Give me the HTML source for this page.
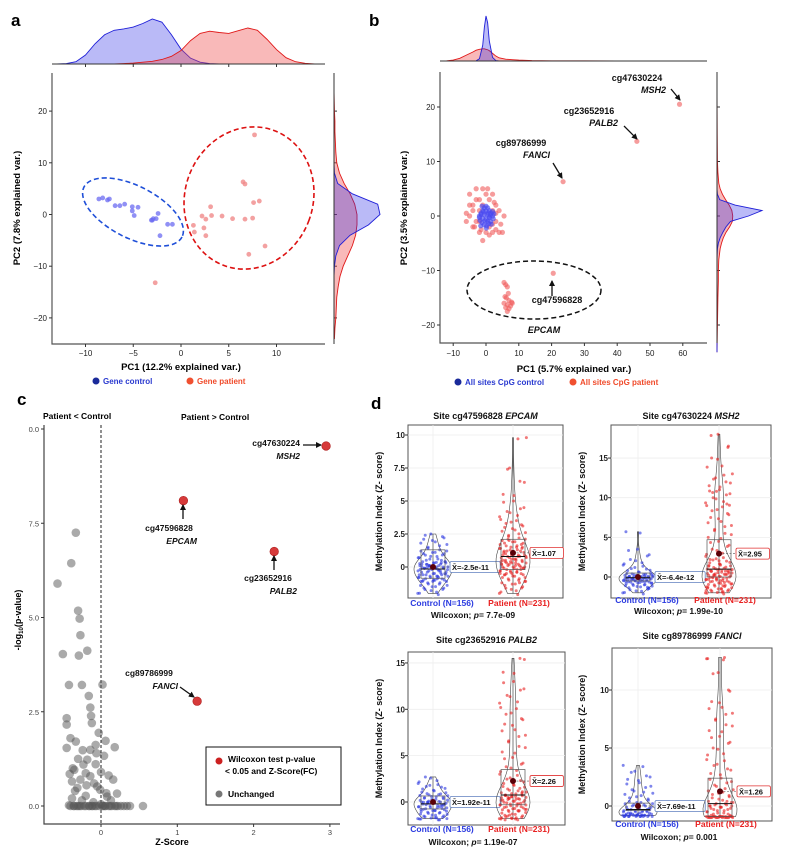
<!DOCTYPE html>
<html><head><meta charset="utf-8">
<style>
html,body{margin:0;padding:0;background:#fff;}
svg{display:block;font-family:"Liberation Sans",Arial,sans-serif;}
.b{font-weight:bold;}
.t{font-size:9px;fill:#222;}
</style></head>
<body>
<svg id="fig" width="800" height="856" viewBox="0 0 800 856" xmlns="http://www.w3.org/2000/svg">
<!-- panel labels -->
<text x="11" y="26" class="b" font-size="17">a</text>
<text x="369" y="26" class="b" font-size="17">b</text>
<text x="17" y="405" class="b" font-size="17">c</text>
<text x="371" y="409" class="b" font-size="17">d</text>

<!-- panel a static -->
<text x="181" y="370" text-anchor="middle" class="b" font-size="9.5">PC1 (12.2% explained var.)</text>
<text transform="translate(20,208) rotate(-90)" text-anchor="middle" class="b" font-size="9.5">PC2 (7.8% explained var.)</text>
<g>
<circle cx="96" cy="381" r="3.5" fill="#1a2a9a"/>
<text x="103" y="384" class="b" font-size="8" fill="#2a3ad0">Gene control</text>
<circle cx="190" cy="381" r="3.5" fill="#f05030"/>
<text x="197" y="384" class="b" font-size="8" fill="#f04a2a">Gene patient</text>
</g>

<!-- panel b static -->
<text x="574" y="372" text-anchor="middle" class="b" font-size="9.5">PC1 (5.7% explained var.)</text>
<text transform="translate(407,208) rotate(-90)" text-anchor="middle" class="b" font-size="9.5">PC2 (3.5% explained var.)</text>
<g>
<circle cx="458" cy="382" r="3.5" fill="#1a2a9a"/>
<text x="465" y="385" class="b" font-size="8" fill="#2a3ad0">All sites CpG control</text>
<circle cx="573" cy="382" r="3.5" fill="#f05030"/>
<text x="580" y="385" class="b" font-size="8" fill="#f04a2a">All sites CpG patient</text>
</g>
<g class="b" font-size="9" fill="#111">
<text x="637" y="81" text-anchor="middle">cg47630224</text>
<text x="666" y="93" text-anchor="end" font-style="italic">MSH2</text>
<text x="589" y="114" text-anchor="middle">cg23652916</text>
<text x="618" y="126" text-anchor="end" font-style="italic">PALB2</text>
<text x="521" y="146" text-anchor="middle">cg89786999</text>
<text x="550" y="158" text-anchor="end" font-style="italic">FANCI</text>
<text x="557" y="303" text-anchor="middle">cg47596828</text>
<text x="544" y="333" text-anchor="middle" font-style="italic">EPCAM</text>
</g>

<!-- panel c static -->
<text x="43" y="419" class="b" font-size="8.5">Patient &lt; Control</text>
<text x="181" y="420" class="b" font-size="8.5">Patient &gt; Control</text>
<text x="172" y="845" text-anchor="middle" class="b" font-size="9">Z-Score</text>
<text transform="translate(21,620) rotate(-90)" text-anchor="middle" class="b" font-size="9">-log<tspan font-size="6" dy="2">10</tspan><tspan dy="-2">(p-value)</tspan></text>
<g class="b" font-size="8.5" fill="#111">
<text x="300" y="446" text-anchor="end">cg47630224</text>
<text x="300" y="459" text-anchor="end" font-style="italic">MSH2</text>
<text x="169" y="531" text-anchor="middle">cg47596828</text>
<text x="197" y="544" text-anchor="end" font-style="italic">EPCAM</text>
<text x="268" y="581" text-anchor="middle">cg23652916</text>
<text x="297" y="594" text-anchor="end" font-style="italic">PALB2</text>
<text x="149" y="676" text-anchor="middle">cg89786999</text>
<text x="178" y="689" text-anchor="end" font-style="italic">FANCI</text>
</g>
<g>
<rect x="206" y="747" width="135" height="58" fill="#fff" stroke="#111" stroke-width="1"/>
<circle cx="219" cy="761" r="3.5" fill="#cc2020"/>
<text x="228" y="762" class="b" font-size="8.5">Wilcoxon test p-value</text>
<text x="225" y="774" class="b" font-size="8.5">&lt; 0.05 and Z-Score(FC)</text>
<circle cx="219" cy="794" r="3.5" fill="#777"/>
<text x="228" y="797" class="b" font-size="8.5">Unchanged</text>
</g>
</svg>
<script>
const NS='http://www.w3.org/2000/svg';
const svg=document.getElementById('fig');
function mk(tag,attrs,parent){const e=document.createElementNS(NS,tag);for(const k in attrs)e.setAttribute(k,attrs[k]);(parent||svg).appendChild(e);return e;}

/* ---------------- DATA ---------------- */
// panel a
const aBlueX=[-8.6,-8.2,-7.7,-7.5,-6.9,-6.4,-5.9,-5.1,-5.1,-4.9,-4.5,-3.1,-2.9,-2.6,-2.4,-1.4,-0.9,-2.2,-3.0];
const aBlueY=[3.0,3.2,2.8,3.0,1.7,1.7,2.0,1.5,0.7,-0.2,1.4,-1.1,-0.8,-0.8,0.2,-1.9,-1.9,-4.1,-1.1];
const aRedX=[7.7,6.5,6.7,7.6,8.2,3.1,2.2,2.6,3.2,4.3,5.4,6.7,7.5,1.3,1.4,2.4,2.6,8.8,7.1,-2.7];
const aRedY=[15.4,6.3,5.9,2.3,2.6,1.5,-0.3,-0.9,-0.2,-0.3,-0.8,-0.9,-0.7,-2.1,-3.4,-2.6,-4.1,-6.1,-7.7,-13.2];
const aTopGrid=[-13,-12,-11,-10,-9,-8,-7,-6,-5,-4,-3,-2,-1,0,1,2,3,4,5,6,7,8,9,10,11,12,13,14];
const aTopBlue=[0,0.01,0.05,0.2,0.45,0.65,0.75,0.78,0.82,0.9,1.0,0.93,0.65,0.33,0.13,0.04,0.01,0,0,0,0,0,0,0,0,0,0,0];
const aTopRed=[0,0,0,0,0,0,0,0.01,0.02,0.04,0.06,0.1,0.17,0.3,0.52,0.68,0.73,0.7,0.68,0.74,0.8,0.75,0.55,0.32,0.14,0.05,0.015,0];
const aSideGrid=[-24,-22,-20,-18,-16,-14,-12,-10,-8,-6,-4,-2,0,2,4,6,8,10,12,14,16,18,20,22,24];
const aSideBlue=[0,0,0,0,0,0,0,0.01,0.04,0.12,0.35,0.75,1.0,0.95,0.4,0.08,0.01,0,0,0,0,0,0,0,0];
const aSideRed=[0.01,0.02,0.04,0.05,0.06,0.09,0.13,0.2,0.3,0.4,0.47,0.5,0.5,0.45,0.35,0.22,0.12,0.06,0.04,0.03,0.02,0.02,0.01,0.005,0];
const aXTicks=[-10,-5,0,5,10];
const aYTicks=[-20,-10,0,10,20];

// panel b
const bBlueX=[-2,-1.5,-1,-0.5,0,0.5,1,1.5,2,-1.8,-1.2,-0.6,0.2,0.8,1.4,2.2,-1.5,-0.8,0,0.7,1.3,-2,-1,0,1,2,-1.2,-0.3,0.5,1.6,-0.5,0.3,1,-1.6,2.4,0.1];
const bBlueY=[0,0.5,1,1.5,1.8,1.5,1,0.5,0,-0.8,-1.2,-1.6,-1.8,-1.4,-1,-0.5,0.3,0.8,0.9,0.6,0.2,-0.3,-0.4,-0.6,-0.3,0.8,1.8,-0.9,-1,-1.5,0.2,0.3,-0.2,-1.8,0.4,-2.2];
const bRedX=[-5,-4,-3,-2,-1,0,1,2,3,-5,-6,-4,-3,-2,-1,0,1,2,3,4,5,5.5,4,3,-4,-3,-2,-1,2,3,-5,-2,1,2.5,-3.5,4.5,-6,0.5,-1.5,2,5.5,6,6.5,5.8,6.2,7,5.5,6.5,7.5,8,6,7,6.5,7.8,6.8,20.5,23.5,46,59];
const bRedY=[4,2,5,3,5,4,3,4,2,0,-1,-2,-1,-3,-4.5,-3,-2,-3,-2.5,-3,-3,0,1,0.5,1,3,1,2,1,-1,2,-1,-3.5,2.5,-2,-1.5,0.5,5,-2.5,-1.5,-12.2,-12.6,-13,-14.8,-15,-15.5,-16,-16.3,-16.5,-16,-16.8,-17,-17.5,-15.8,-14.2,-10.5,6.3,13.7,20.5];
const bTopGrid=[-14,-12,-10,-8,-6,-4,-3,-2,-1,-0.5,0,0.5,1,2,3,4,6,8,10,14,20,30,40,60,66];
const bTopBlue=[0,0,0,0,0,0,0.005,0.05,0.35,0.75,1.0,0.85,0.45,0.08,0.01,0,0,0,0,0,0,0,0,0,0];
const bTopRed=[0,0.005,0.02,0.06,0.13,0.2,0.24,0.26,0.27,0.27,0.26,0.25,0.23,0.17,0.11,0.07,0.04,0.03,0.02,0.01,0.005,0.003,0.002,0.001,0];
const bSideGrid=[-25,-20,-15,-12,-10,-8,-6,-5,-4,-3,-2,-1,0,1,2,3,4,5,6,8,10,15,20,25];
const bSideBlue=[0,0,0,0,0,0,0.01,0.03,0.07,0.13,0.2,0.3,0.7,1.0,0.4,0.06,0.01,0,0,0,0,0,0,0];
const bSideRed=[0,0.01,0.02,0.03,0.03,0.04,0.07,0.1,0.14,0.2,0.28,0.34,0.35,0.33,0.27,0.19,0.12,0.07,0.04,0.02,0.01,0.005,0.002,0];
const bXTicks=[-10,0,10,20,30,40,50,60];
const bYTicks=[-20,-10,0,10,20];

// panel c
const cGreyX=[-0.33,-0.39,-0.57,-0.30,-0.28,-0.27,-0.50,-0.29,-0.18,-0.42,-0.25,0.02,-0.16,-0.14,-0.13,-0.45,-0.12,-0.45,-0.40,-0.33,-0.03,0.06,0.18,-0.45,-0.24,-0.14,-0.07,0.04,-0.30,-0.18,-0.07,-0.35,-0.20,0.10,0.16,-0.38,-0.27,-0.14,-0.05,-0.01,0.21,-0.31,-0.20,0.07,-0.38,-0.25,-0.10,0.0,-0.42,-0.36,-0.22,-0.12,0.03,0.12,-0.4,-0.32,-0.28,-0.15,-0.08,0.05,0.2,-0.35,-0.3,-0.26,-0.2,-0.16,-0.11,-0.06,-0.02,0.02,0.06,0.1,0.14,0.18,0.22,0.26,0.3,0.34,0.38,0.55,-0.37,-0.23,-0.09,0.08,-0.34,-0.19,0.0,0.13,-0.41,-0.06];
const cGreyY=[7.25,6.44,5.9,5.18,4.97,4.53,4.03,3.99,4.12,3.21,3.21,3.22,2.92,2.61,2.39,2.33,2.2,2.16,1.8,1.71,1.94,1.73,1.56,1.54,1.48,1.49,1.62,1.33,1.25,1.23,1.11,0.96,0.87,0.81,0.70,0.65,0.7,0.79,0.52,0.43,0.33,0.48,0.27,0.34,0.2,0.15,0.1,0.05,0.02,0,0,0,0,0,0,0,0,0,0,0,0,0,0,0,0,0,0,0,0,0,0,0,0,0,0,0,0,0,0,0,1.0,1.1,0.6,0.25,0.4,0.55,0.9,0.15,0.85,1.4];
const cSigX=[2.95,1.08,2.27,1.26];
const cSigY=[9.55,8.1,6.75,2.78];
const cXTicks=[0,1,2,3];
const cYTicks=[0,2.5,5,7.5,10];
const cYTickLabels=['0.0','2.5','5.0','7.5','0.0'];

// panel d
const dTitles=['EPCAM','MSH2','PALB2','FANCI'];
const dSites=['cg47596828','cg47630224','cg23652916','cg89786999'];
const dPvals=['7.7e-09','1.99e-10','1.19e-07','0.001'];
const dCtrlMeanLbl=['-2.5e-11','-6.4e-12','1.92e-11','7.69e-11'];
const dPatMean=[1.07,2.95,2.26,1.26];
const dCtrlMean=[0,0,0,0];
const dCtrlBox=[[-0.85,-0.15,1.3],[-0.5,-0.1,0.5],[-0.75,-0.2,0.65],[-0.4,-0.3,0.25]];
const dPatBox=[[-0.2,0.8,2.1],[0,1.0,4.7],[-0.3,0.75,3.5],[-0.9,0.2,2.4]];
const dYTicks=[[0,2.5,5,7.5,10],[0,5,10,15],[0,5,10,15],[0,5,10]];
const d1Ctrl=[-2,-1.9,-1.7,-1.6,-1.5,-1.4,-1.3,-1.2,-1.1,-1,-1,-0.9,-0.8,-0.8,-0.7,-0.6,-0.5,-0.5,-0.4,-0.3,-0.3,-0.2,-0.1,-0.1,0,0,0.1,0.1,0.2,0.3,0.3,0.4,0.5,0.6,0.7,0.8,0.9,1,1.1,1.2,1.3,1.5,1.7,1.9,2.1,2.3,2.5,-0.6,-0.2,0.2,0.4,-1.0,0.0,-0.45,0.05,-0.7,0.35];
const d1Pat=[-2,-1.8,-1.6,-1.5,-1.3,-1.2,-1,-0.9,-0.8,-0.7,-0.6,-0.5,-0.4,-0.3,-0.2,-0.2,-0.1,0,0,0.1,0.2,0.3,0.3,0.4,0.5,0.6,0.7,0.8,0.8,0.9,1,1.1,1.2,1.3,1.4,1.5,1.6,1.8,1.9,2,2.2,2.4,2.6,2.8,3,3.2,3.4,3.6,3.9,4.2,4.5,5,5.5,6.5,7.5,9.8,0.5,1,1.5,-0.5,0.2,0.9,2.1,-1.1,0.6,1.2,0.0,0.4,1.7,-0.4];
const d2Ctrl=[-2,-1.8,-1.6,-1.4,-1.2,-1.1,-1,-0.9,-0.8,-0.7,-0.6,-0.5,-0.5,-0.4,-0.3,-0.3,-0.2,-0.2,-0.1,-0.1,0,0,0,0.1,0.1,0.2,0.2,0.3,0.4,0.5,0.6,0.8,1,1.2,1.5,1.8,2.2,2.8,3.5,5.7,-0.6,-0.2,0.3,-0.4,0.0,-1.3];
const d2Pat=[-2,-1.9,-1.8,-1.6,-1.5,-1.3,-1.2,-1,-0.9,-0.8,-0.6,-0.5,-0.4,-0.3,-0.2,-0.1,0,0.1,0.2,0.3,0.4,0.5,0.6,0.7,0.8,0.9,1,1.1,1.2,1.4,1.6,1.8,2,2.3,2.6,3,3.5,4,4.5,5,5.5,6,6.5,7,7.5,8,8.5,9,9.5,10,10.5,11,11.5,12,12.5,13,14,15,16.5,18,-1.4,-0.7,0.3,0.9,1.5,2.2,9.2,10.8,-1.7,-1.1,0.0,0.5,1.0,-0.3];
const d3Ctrl=[-1.8,-1.7,-1.6,-1.5,-1.4,-1.3,-1.2,-1.1,-1,-0.9,-0.8,-0.7,-0.6,-0.5,-0.4,-0.3,-0.2,-0.1,0,0,0.1,0.2,0.3,0.4,0.5,0.6,0.7,0.8,0.9,1,1.2,1.4,1.6,1.8,2,2.3,2.7,-0.3,0.1,-0.8,-0.5,0.0,-1.8,-1.7];
const d3Pat=[-1.8,-1.7,-1.6,-1.5,-1.3,-1.2,-1,-0.9,-0.8,-0.7,-0.6,-0.5,-0.4,-0.3,-0.2,-0.1,0,0.1,0.2,0.3,0.4,0.5,0.6,0.7,0.8,0.9,1,1.2,1.4,1.6,1.8,2,2.3,2.6,3,3.4,3.8,4.2,4.8,5.4,6,6.6,7.2,7.8,8.4,9,9.6,10.2,10.8,11.5,12.2,13,14,15.5,-1.4,-0.8,0.3,0.7,1.1,-1.8,-1.7,-0.2,0.5];
const d4Ctrl=[-0.8,-0.8,-0.8,-0.8,-0.8,-0.8,-0.8,-0.7,-0.7,-0.6,-0.6,-0.5,-0.5,-0.4,-0.4,-0.3,-0.3,-0.2,-0.1,0,0.1,0.2,0.3,0.4,0.6,0.8,1,1.2,1.4,1.7,2,2.3,2.6,3,3.5,-0.8,-0.7,-0.2,-0.8,-0.8];
const d4Pat=[-0.9,-0.9,-0.9,-0.9,-0.9,-0.9,-0.9,-0.9,-0.9,-0.9,-0.8,-0.7,-0.6,-0.5,-0.4,-0.3,-0.2,-0.1,0,0.1,0.2,0.3,0.5,0.7,0.9,1.1,1.3,1.5,1.8,2.1,2.4,2.8,3.2,3.6,4,4.5,5,5.5,6,6.5,7,7.5,8,8.5,9,10,11.5,12.7,12.8,-0.9,-0.9,-0.9,0.0,0.4];
const dCtrl=[d1Ctrl,d2Ctrl,d3Ctrl,d4Ctrl];
const dPat=[d1Pat,d2Pat,d3Pat,d4Pat];

/* ---------------- LAYOUT ---------------- */
const xA=v=>181+v*9.55, yA=v=>214.5-v*5.17;
const xB=v=>486+v*3.28, yB=v=>216-v*5.45;
const xC=v=>101+v*76.3, yC=v=>806-v*37.7;
const dLay=[
 {l:408,r:563,t:425,b:598,y0:567,ys:13.2,cx:433,px:513,ty:419,lx:382,ly:606,wy:618},
 {l:611,r:771,t:425,b:598,y0:577,ys:7.93,cx:638,px:719,ty:419,lx:585,ly:603,wy:614},
 {l:408,r:565,t:652,b:825,y0:802,ys:9.27,cx:433,px:513,ty:643,lx:382,ly:832,wy:845},
 {l:612,r:772,t:648,b:821,y0:806,ys:11.6,cx:638,px:720,ty:639,lx:585,ly:827,wy:840}];

/* -------- helpers -------- */
function txt(x,y,s,attrs,parent){const e=mk('text',Object.assign({x:x,y:y},attrs||{}),parent);e.textContent=s;return e;}
function densPath(grid,vals,toPos,toVal,horizontal){
  let d='';
  grid.forEach((g,i)=>{const p=toPos(g), q=toVal(vals[i]);d+=(i?'L':'M')+(horizontal?q+','+p:p+','+q);});
  const p0=toPos(grid[0]),p1=toPos(grid[grid.length-1]),b=toVal(0);
  d+=horizontal?('L'+b+','+p1+'L'+b+','+p0+'Z'):('L'+p1+','+b+'L'+p0+','+b+'Z');
  return d;
}
const BLUEF='rgba(40,40,230,0.32)',BLUES='#1f1fd8',REDF='rgba(240,70,70,0.38)',REDS='#e01818';

/* ================= PANEL A ================= */
const gA=mk('g',{});


let e=mk('path',{d:'M52,73V344H325',fill:'none',stroke:'#555','stroke-width':1.2},gA);


aXTicks.forEach(v=>{
  const t=mk('line',{x1:xA(v),x2:xA(v),y1:344,y2:347,stroke:'#333'},gA);
  
  
  const l=txt(xA(v),356,v<0?'\u2212'+(-v):String(v),{'text-anchor':'middle','font-size':8,fill:'#222'},gA);
  
  
});
aYTicks.forEach(v=>{
  const t=mk('line',{x1:49,x2:52,y1:yA(v),y2:yA(v),stroke:'#333'},gA);
  
  
  const l=txt(47,yA(v)+3,v<0?'\u2212'+(-v):String(v),{'text-anchor':'end','font-size':8,fill:'#222'},gA);
  
  
  const r=mk('line',{x1:334,x2:337,y1:yA(v),y2:yA(v),stroke:'#333'},gA);
  
  
});
e=mk('path',{d:densPath(aTopGrid,aTopBlue,xA,v=>64-v*45,false),fill:BLUEF,stroke:BLUES,'stroke-width':0.9},gA);


e=mk('path',{d:densPath(aTopGrid,aTopRed,xA,v=>64-v*45,false),fill:REDF,stroke:REDS,'stroke-width':0.9},gA);


e=mk('line',{x1:52,x2:325,y1:64,y2:64,stroke:'#333','stroke-width':1},gA);


aXTicks.forEach(v=>{const t=mk('line',{x1:xA(v),x2:xA(v),y1:64,y2:67,stroke:'#333'},gA);
  
  });
e=mk('path',{d:densPath(aSideGrid,aSideRed,yA,v=>334+v*46,true),fill:REDF,stroke:REDS,'stroke-width':0.9},gA);


e=mk('path',{d:densPath(aSideGrid,aSideBlue,yA,v=>334+v*46,true),fill:BLUEF,stroke:BLUES,'stroke-width':0.9},gA);


e=mk('line',{x1:334,x2:334,y1:73,y2:344,stroke:'#333','stroke-width':1},gA);


e=mk('ellipse',{cx:133,cy:212,rx:55,ry:26,transform:'rotate(27 133 212)',fill:'none',stroke:'#1f4fd8','stroke-width':1.6,'stroke-dasharray':'5,3'},gA);


e=mk('ellipse',{cx:249,cy:198,rx:64,ry:72,transform:'rotate(20 249 198)',fill:'none',stroke:'#dd1111','stroke-width':1.6,'stroke-dasharray':'5,3'},gA);


aBlueX.forEach((v,i)=>{const c=mk('circle',{cx:xA(v),cy:yA(aBlueY[i]),r:2.4,fill:'#6b6bf2','fill-opacity':0.75},gA);
  
  });
aRedX.forEach((v,i)=>{const c=mk('circle',{cx:xA(v),cy:yA(aRedY[i]),r:2.4,fill:'#f08a8a','fill-opacity':0.8},gA);
  
  });

/* ================= PANEL B ================= */
const gB=mk('g',{});


e=mk('path',{d:'M440,72V343H707',fill:'none',stroke:'#555','stroke-width':1.2},gB);


bXTicks.forEach(v=>{
  const t=mk('line',{x1:xB(v),x2:xB(v),y1:343,y2:346,stroke:'#333'},gB);
  
  
  const l=txt(xB(v),356,v<0?'\u2212'+(-v):String(v),{'text-anchor':'middle','font-size':8,fill:'#222'},gB);
  
  
});
bYTicks.forEach(v=>{
  const t=mk('line',{x1:437,x2:440,y1:yB(v),y2:yB(v),stroke:'#333'},gB);
  
  
  const l=txt(435,yB(v)+3,v<0?'\u2212'+(-v):String(v),{'text-anchor':'end','font-size':8,fill:'#222'},gB);
  
  
  const r=mk('line',{x1:717,x2:720,y1:yB(v),y2:yB(v),stroke:'#333'},gB);
  
  
});
e=mk('path',{d:densPath(bTopGrid,bTopRed,xB,v=>61-v*45,false),fill:REDF,stroke:REDS,'stroke-width':0.9},gB);


e=mk('path',{d:densPath(bTopGrid,bTopBlue,xB,v=>61-v*45,false),fill:BLUEF,stroke:BLUES,'stroke-width':0.9},gB);


e=mk('line',{x1:440,x2:707,y1:61,y2:61,stroke:'#333','stroke-width':1},gB);


e=mk('path',{d:densPath(bSideGrid,bSideRed,yB,v=>717+v*45,true),fill:REDF,stroke:REDS,'stroke-width':0.9},gB);


e=mk('path',{d:densPath(bSideGrid,bSideBlue,yB,v=>717+v*45,true),fill:BLUEF,stroke:BLUES,'stroke-width':0.9},gB);


e=mk('line',{x1:717,x2:717,y1:72,y2:343,stroke:'#333','stroke-width':1},gB);


e=mk('ellipse',{cx:534,cy:290,rx:67,ry:29,fill:'none',stroke:'#111','stroke-width':1.5,'stroke-dasharray':'5,3'},gB);


bRedX.forEach((v,i)=>{const c=mk('circle',{cx:xB(v),cy:yB(bRedY[i]),r:2.6,fill:'#f05a5a','fill-opacity':0.6},gB);
  
  });
bBlueX.forEach((v,i)=>{const c=mk('circle',{cx:xB(v),cy:yB(bBlueY[i]),r:2.6,fill:'#4a4af0','fill-opacity':0.65},gB);
  
  });
const defs=mk('defs',{});
const mkr=mk('marker',{id:'ah',markerWidth:6,markerHeight:6,refX:5,refY:3,orient:'auto',markerUnits:'userSpaceOnUse'},defs);
mk('path',{d:'M0,0L6,3L0,6Z',fill:'#111'},mkr);
[[671,89,680,100],[624,126,637,139],[553,163,562,178],[552,296,552,281]].forEach(a=>{
  const l=mk('line',{x1:a[0],y1:a[1],x2:a[2],y2:a[3],stroke:'#111','stroke-width':1.3,'marker-end':'url(#ah)'},gB);
  
  
});

/* ================= PANEL C ================= */
const gC=mk('g',{});


e=mk('path',{d:'M44,425V824H340',fill:'none',stroke:'#444','stroke-width':1.2},gC);


cXTicks.forEach(v=>{
  const t=mk('line',{x1:xC(v),x2:xC(v),y1:824,y2:827,stroke:'#333'},gC);
  
  
  const l=txt(xC(v),835,String(v),{'text-anchor':'middle','font-size':7.5,fill:'#444'},gC);
  
  
});
cYTicks.forEach((v,i)=>{
  const t=mk('line',{x1:41,x2:44,y1:yC(v),y2:yC(v),stroke:'#333'},gC);
  
  
  const l=txt(39,yC(v)+3,cYTickLabels[i],{'text-anchor':'end','font-size':7.5,fill:'#444'},gC);
  
  
});
e=mk('line',{x1:xC(0),x2:xC(0),y1:425,y2:824,stroke:'#222','stroke-width':1,'stroke-dasharray':'3,2'},gC);


cGreyX.forEach((v,i)=>{const c=mk('circle',{cx:xC(v),cy:yC(cGreyY[i]),r:4.3,fill:'#555','fill-opacity':0.5},gC);
  
  });
cSigX.forEach((v,i)=>{const c=mk('circle',{cx:xC(v),cy:yC(cSigY[i]),r:4.3,fill:'#d63a3a',stroke:'#b02020','stroke-width':0.6},gC);
  
  });
[[303,445,321,445],[183,519,183,505],[274,570,274,556],[180,687,194,697]].forEach(a=>{
  const l=mk('line',{x1:a[0],y1:a[1],x2:a[2],y2:a[3],stroke:'#111','stroke-width':1.3,'marker-end':'url(#ah)'},gC);
  
  
});

/* ================= PANEL D ================= */
function kde(vals,at,bw){let s=0;vals.forEach(v=>{const z=(at-v)/bw;s+=Math.exp(-0.5*z*z);});return s;}
dLay.forEach((L,k)=>{
  const g=mk('g',{});
  
  
  const Y=v=>L.y0-v*L.ys;
  let r=mk('rect',{x:L.l,y:L.t,width:L.r-L.l,height:L.b-L.t,fill:'#fff',stroke:'#555','stroke-width':1},g);
  
  
  [L.cx,L.px].forEach(x=>{const gl=mk('line',{x1:x,x2:x,y1:L.t,y2:L.b,stroke:'#eee','stroke-width':0.8},g);
    
    });
  dYTicks[k].forEach(v=>{
    const gl=mk('line',{x1:L.l,x2:L.r,y1:Y(v),y2:Y(v),stroke:'#eee','stroke-width':0.8},g);
    
    
    const t=mk('line',{x1:L.l-3,x2:L.l,y1:Y(v),y2:Y(v),stroke:'#333'},g);
    
    
    const l=txt(L.l-3,Y(v)+3,String(v),{'text-anchor':'end','font-size':8,'font-weight':'bold',fill:'#222'},g);
    
    
  });
  const groups=[{vals:dCtrl[k],x:L.cx,w:19,col:'#2a35e0',box:dCtrlBox[k],mean:dCtrlMean[k]},
                {vals:dPat[k],x:L.px,w:17,col:'#e82020',box:dPatBox[k],mean:dPatMean[k]}];
  groups.forEach((G,gi)=>{
    const mn=Math.min(...G.vals),mx=Math.max(...G.vals),bw=(mx-mn)*0.07+0.2;
    const steps=40;let pts=[],maxd=0;
    for(let s=0;s<=steps;s++){const v=mn+(mx-mn)*s/steps;const d=kde(G.vals,v,bw);pts.push([v,d]);if(d>maxd)maxd=d;}
    let dR='',dL='';
    pts.forEach((p,i)=>{const w=p[1]/maxd*G.w;dR+=(i?'L':'M')+(G.x+w)+','+Y(p[0]);});
    for(let i=pts.length-1;i>=0;i--){const w=pts[i][1]/maxd*G.w;dL+='L'+(G.x-w)+','+Y(pts[i][0]);}
    const vio=mk('path',{d:dR+dL+'Z',fill:'none',stroke:'#444','stroke-width':0.6},g);
    
    
    const wh=mk('line',{x1:G.x,x2:G.x,y1:Y(mx),y2:Y(mn),stroke:'#333','stroke-width':0.6},g);
    
    
    G.vals.forEach((v,i)=>{
      [0.618034,0.381966].forEach((phi,j)=>{
        const jit=((((i+j*7)*phi)%1)-0.5)*2*G.w*0.8;
        const c=mk('circle',{cx:G.x+jit,cy:Y(v)+(j?1.2:0),r:1.5,fill:G.col,'fill-opacity':0.6},g);
        
        
      });
    });
    const bx=mk('rect',{x:G.x-12,y:Y(G.box[2]),width:24,height:Y(G.box[0])-Y(G.box[2]),fill:'none',stroke:'#555','stroke-width':0.7},g);
    
    
    const md=mk('line',{x1:G.x-12,x2:G.x+12,y1:Y(G.box[1]),y2:Y(G.box[1]),stroke:'#111','stroke-width':1},g);
    
    
    const lx=G.x+17;
    const dl=mk('line',{x1:G.x,x2:lx,y1:Y(G.mean),y2:Y(G.mean),stroke:'#555','stroke-width':0.6,'stroke-dasharray':'2,1.5'},g);
    
    
    const dot=mk('circle',{cx:G.x,cy:Y(G.mean),r:3,fill:'#5a0008'},g);
    
    
    const lbl=gi?('X\u0304='+G.mean.toFixed(2)):('X\u0304='+dCtrlMeanLbl[k]);
    const tw=lbl.length*4.2+4;
    const lb=mk('rect',{x:lx,y:Y(G.mean)-5.5,width:tw,height:11,rx:1.5,fill:'#fff',stroke:gi?'#e03030':'#6080c0','stroke-width':0.8},g);
    
    
    const lt=txt(lx+2,Y(G.mean)+3,lbl,{'font-size':7.5,'font-weight':'bold',fill:'#111'},g);
    
    
  });
  const tt=txt((L.l+L.r)/2,L.ty,'Site '+dSites[k]+' ',{'text-anchor':'middle','font-size':9,'font-weight':'bold',fill:'#111'},g);
  const ts=mk('tspan',{'font-style':'italic'},tt);ts.textContent=dTitles[k];
  
  
  const yl=txt(0,0,'Methylation Index (Z- score)',{transform:'translate('+L.lx+','+((L.t+L.b)/2)+') rotate(-90)','text-anchor':'middle','font-size':9,'font-weight':'bold',fill:'#111'},g);
  
  
  const c1=txt(L.cx+9,L.ly,'Control (N=156)',{'text-anchor':'middle','font-size':8.5,'font-weight':'bold',fill:'#2a3ae0'},g);
  
  
  const c2=txt(L.px+6,L.ly,'Patient (N=231)',{'text-anchor':'middle','font-size':8.5,'font-weight':'bold',fill:'#e82020'},g);
  
  
  const w=txt((L.cx+L.px)/2,L.wy,'Wilcoxon; ',{'text-anchor':'middle','font-size':8.5,'font-weight':'bold',fill:'#111'},g);
  const wp=mk('tspan',{'font-style':'italic'},w);wp.textContent='p';
  const wv=mk('tspan',{},w);wv.textContent='= '+dPvals[k];
  
  
});
</script>
</body></html>
